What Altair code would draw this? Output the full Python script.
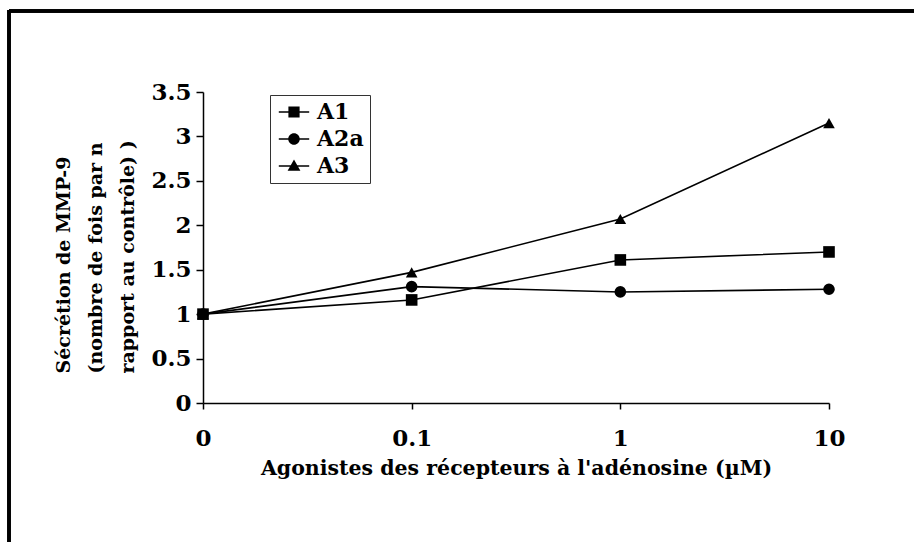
import altair as alt
import pandas as pd

# Agonist concentration (µM) and fold change of MMP-9 secretion per receptor agonist
doses = ["0", "0.1", "1", "10"]
a1 = [1.0, 1.16, 1.61, 1.70]
a2a = [1.0, 1.31, 1.25, 1.28]
a3 = [1.0, 1.47, 2.07, 3.15]
series = ["A1", "A2a", "A3"]

rows = []
for name, vals in zip(series, [a1, a2a, a3]):
    for d, v in zip(doses, vals):
        rows.append({"dose": d, "fold": v, "agonist": name})
df = pd.DataFrame(rows)

FONT = "DejaVu Serif"
W, H = 626, 311

x_enc = alt.X(
    "dose:N",
    sort=doses,
    scale=alt.Scale(type="point", padding=0),
    axis=alt.Axis(
        title="Agonistes des récepteurs à l'adénosine (µM)",
        labelAngle=0,
        labelFont=FONT, labelFontWeight="bold", labelFontSize=23, labelColor="black",
        labelPadding=18, tickSize=6, tickColor="black", domainColor="black",
        domainWidth=1.5, tickWidth=1.5,
        titleFont=FONT, titleFontWeight="bold", titleFontSize=20.5, titleColor="black",
        titleY=65, titleBaseline="middle",
    ),
)
y_enc = alt.Y(
    "fold:Q",
    scale=alt.Scale(domain=[0, 3.5], nice=False),
    axis=alt.Axis(
        values=[0, 0.5, 1, 1.5, 2, 2.5, 3, 3.5],
        format="~g", grid=False,
        title=["Sécrétion de MMP-9", "(nombre de fois par  n", "rapport au contrôle) )"],
        labelFont=FONT, labelFontWeight="bold", labelFontSize=23, labelColor="black",
        labelPadding=5, tickSize=7, tickColor="black", domainColor="black",
        domainWidth=1.5, tickWidth=1.5,
        titleFont=FONT, titleFontWeight="bold", titleFontSize=19, titleColor="black",
        titleAngle=270, titleAlign="left", titleBaseline="alphabetic",
        titleX=-134, titleY=281, titleLineHeight=32,
    ),
)

lines = alt.Chart(df).mark_line(color="black", strokeWidth=1.6).encode(
    x=x_enc, y=y_enc, detail="agonist:N"
)

points = alt.Chart(df).mark_point(filled=True, color="black", size=135, opacity=1).encode(
    x=x_enc, y=y_enc,
    shape=alt.Shape(
        "agonist:N",
        scale=alt.Scale(domain=series, range=["square", "circle", "triangle-up"]),
        legend=None,
    ),
)

# Legend glyphs: a short line with the series marker on it (8 px per path unit)
legend_paths = [
    "M-1.9,-0.1H1.9V0.1H-1.9Z M-0.7,-0.7H0.7V0.7H-0.7Z",
    "M-1.9,-0.1H1.9V0.1H-1.9Z M0.72,0A0.72,0.72 0 1,1 -0.72,0A0.72,0.72 0 1,1 0.72,0Z",
    "M-1.9,-0.1H1.9V0.1H-1.9Z M0,-0.8L0.8,0.58L-0.8,0.58Z",
]
legend_layer = alt.Chart(df).transform_filter("false").mark_point(
    filled=True, color="black"
).encode(
    x=x_enc, y=y_enc,
    shape=alt.Shape(
        "agonist:N",
        scale=alt.Scale(domain=series, range=legend_paths),
        legend=alt.Legend(
            title=None, orient="none", legendX=67, legendY=3,
            labelFont=FONT, labelFontWeight="bold", labelFontSize=22, labelColor="black",
            symbolSize=256, symbolFillColor="black", symbolStrokeWidth=0,
            symbolOpacity=1, symbolOffset=7, labelOffset=12, rowPadding=5,
            padding=6, strokeColor="#333333", fillColor="white",
        ),
    ),
)

# Figure frame along the top and left edges
frame_top = alt.Chart(df).mark_rule(color="black", strokeWidth=2.5).encode(
    x=alt.value(-194), x2=alt.value(W + 90), y=alt.value(-81)
)
frame_left = alt.Chart(df).mark_rule(color="black", strokeWidth=2.5).encode(
    x=alt.value(-194), y=alt.value(-82), y2=alt.value(H + 145)
)

chart = (
    alt.layer(frame_top, frame_left, lines, points, legend_layer)
    .resolve_scale(shape="independent")
    .properties(
        width=W, height=H,
        autosize=alt.AutoSizeParams(type="none"),
        padding={"left": 203, "top": 92, "right": 85, "bottom": 139},
        background="white",
    )
    .configure_view(stroke=None)
)

chart.save("out.html", embed_options={"renderer": "svg", "actions": False})
